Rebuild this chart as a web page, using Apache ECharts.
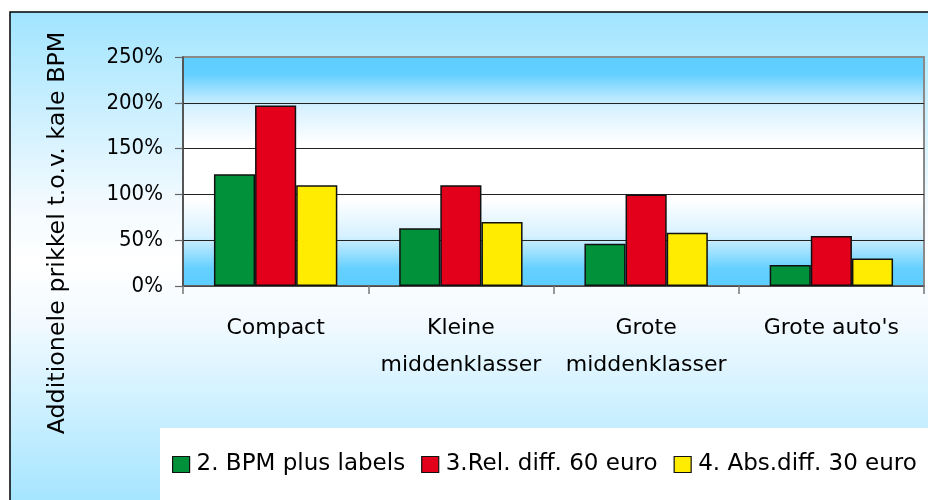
<!DOCTYPE html>
<html>
<head>
<meta charset="utf-8">
<script src="https://cdn.jsdelivr.net/npm/echarts@6/dist/echarts.min.js"></script>
<style>
  html, body { margin: 0; padding: 0; background: #fff; }
  #chart { width: 928px; height: 500px; }
</style>
</head>
<body>
<div id="chart"></div>
<script>
// categorieën (x-as)
const categories = ['Compact', 'Kleine\nmiddenklasser', 'Grote\nmiddenklasser', "Grote auto's"];
// reeksen (fractie: 1 = 100%)
const seriesNames = ['2. BPM plus labels', '3.Rel. diff. 60 euro', '4. Abs.diff. 30 euro'];
const bpmPlusLabels = [1.22, 0.63, 0.46, 0.23];
const relDiff60 = [1.97, 1.10, 1.00, 0.545];
const absDiff30 = [1.10, 0.70, 0.58, 0.30];
const yTicks = [0, 0.5, 1, 1.5, 2, 2.5];

const COLORS = ['#00913A', '#E2001A', '#FFEC00'];
const FONT = 'DejaVu Sans';
const TICK_FONT = '"DejaVu Sans Condensed", "DejaVu Sans", sans-serif';

const chart = echarts.init(document.getElementById('chart'));

const barSeries = [bpmPlusLabels, relDiff60, absDiff30].map((data, i) => ({
  name: seriesNames[i],
  type: 'bar',
  data: data,
  barGap: '0%',
  barCategoryGap: '33.4%',
  itemStyle: { color: COLORS[i], borderColor: '#111', borderWidth: 1.5 }
}));

chart.setOption({
  animation: false,
  graphic: [
    {
      // buitenvlak met gespiegeld verloop
      type: 'rect',
      z: -20,
      shape: { x: 10, y: 12, width: 930, height: 500 },
      style: {
        fill: new echarts.graphic.LinearGradient(0, 0, 0, 1, [
          { offset: 0, color: '#A0E4FF' },
          { offset: 0.38, color: '#F2FAFF' },
          { offset: 0.5, color: '#FFFFFF' },
          { offset: 0.62, color: '#F2FAFF' },
          { offset: 1, color: '#A0E4FF' }
        ]),
        stroke: '#000',
        lineWidth: 1.5
      }
    },
    {
      // witte legendavak
      type: 'rect',
      z: -10,
      shape: { x: 160, y: 428, width: 800, height: 100 },
      style: { fill: '#FFFFFF' }
    },
    {
      type: 'text',
      x: 58,
      y: 233,
      rotation: Math.PI / 2,
      style: {
        text: 'Additionele prikkel t.o.v. kale BPM',
        font: '23.8px "DejaVu Sans"',
        fill: '#000',
        align: 'center',
        verticalAlign: 'middle'
      }
    }
  ],
  legend: {
    left: 172,
    top: 452,
    padding: 0,
    itemWidth: 17,
    itemHeight: 16,
    itemGap: 16,
    icon: 'rect',
    itemStyle: { borderColor: '#111', borderWidth: 1.2 },
    textStyle: { fontFamily: FONT, fontSize: 23, color: '#000', lineHeight: 25, padding: [0, 0, 0, 2] },
    data: seriesNames
  },
  grid: {
    left: 183, top: 57, right: 4, bottom: 214,
    show: true,
    borderColor: '#8A8A8A',
    borderWidth: 2,
    backgroundColor: new echarts.graphic.LinearGradient(0, 0, 0, 1, [
      { offset: 0, color: '#5CCEFF' },
      { offset: 0.08, color: '#64D0FF' },
      { offset: 0.22, color: '#D6F1FF' },
      { offset: 0.38, color: '#FFFFFF' },
      { offset: 0.62, color: '#FFFFFF' },
      { offset: 0.78, color: '#D6F1FF' },
      { offset: 0.92, color: '#64D0FF' },
      { offset: 1, color: '#5CCEFF' }
    ])
  },
  xAxis: {
    type: 'category',
    data: categories,
    boundaryGap: true,
    axisLine: { lineStyle: { color: '#555', width: 1.5 } },
    axisTick: { show: true, length: 8, interval: 0, lineStyle: { color: '#777', width: 1.5 } },
    axisLabel: {
      interval: 0,
      margin: 23.5,
      fontFamily: FONT,
      fontSize: 22,
      lineHeight: 37,
      color: '#000'
    }
  },
  yAxis: {
    type: 'value',
    min: yTicks[0],
    max: yTicks[yTicks.length - 1],
    interval: yTicks[1] - yTicks[0],
    axisLine: { show: true, lineStyle: { color: '#444', width: 1.5 } },
    axisTick: { show: true, length: 8, lineStyle: { color: '#666', width: 1.2 } },
    splitLine: { show: true, showMaxLine: false, lineStyle: { color: '#222', width: 1.2 } },
    axisLabel: {
      margin: 20,
      fontFamily: TICK_FONT,
      fontSize: 22,
      color: '#000',
      formatter: v => Math.round(v * 100) + '%'
    }
  },
  series: barSeries
});
</script>
</body>
</html>
